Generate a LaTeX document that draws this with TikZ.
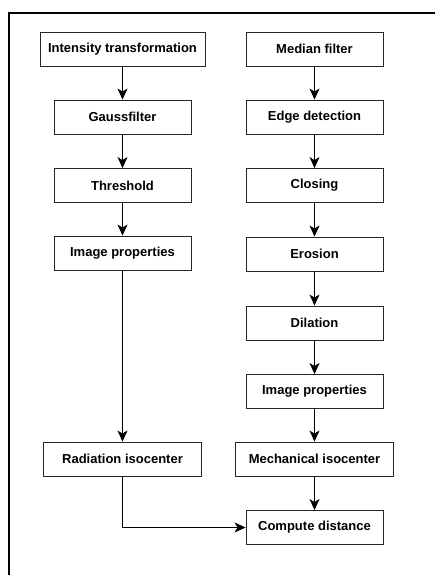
\documentclass[tikz,border=0pt]{standalone}
\usepackage{fontspec}
\setmainfont{Liberation Sans}
\usetikzlibrary{arrows.meta}

\begin{document}
\begin{tikzpicture}
    [x = 1pt, y = -1pt, >={Stealth[length=11pt,width=10pt,inset=3pt]},
     every node/.style = {rectangle, draw = black!85, line width = .9pt, inner sep = 0pt,
       minimum width = 137pt, minimum height = 34pt,
       font = \fontsize{13}{16}\selectfont\bfseries}]
    \useasboundingbox (0,0) rectangle (435,575);
    \draw[line width = 1.8pt] (9,575) -- (9,13) -- (435,13);
    % left column
    \node[minimum width = 165pt] (int) at (122.5,49) {Intensity transformation};
    \node (gauss) at (122.5,117) {Gaussfilter};
    \node (thr) at (122.5,185.5) {Threshold};
    \node (imgl) at (122.5,253) {Image properties};
    \node[minimum width = 158pt] (rad) at (122.5,459) {Radiation isocenter};
    % right column
    \node (med) at (314.5,49) {Median filter};
    \node (edge) at (314.5,117) {Edge detection};
    \node (clo) at (314.5,185.5) {Closing};
    \node (ero) at (314.5,254) {Erosion};
    \node (dil) at (314.5,323) {Dilation};
    \node (imgr) at (314.5,391.5) {Image properties};
    \node[minimum width = 158pt] (mech) at (314.5,459) {Mechanical isocenter};
    \node (comp) at (314.5,527.5) {Compute distance};
    \foreach \from/ \to in {int/gauss,gauss/thr,thr/imgl,imgl/rad,med/edge,edge/clo,clo/ero,ero/dil,dil/imgr,imgr/mech,mech/comp}
      \draw[->, line width = .9pt] (\from) -- (\to);
    \draw[->, line width = .9pt] (rad) |- (comp);
  \end{tikzpicture}
\end{document}
